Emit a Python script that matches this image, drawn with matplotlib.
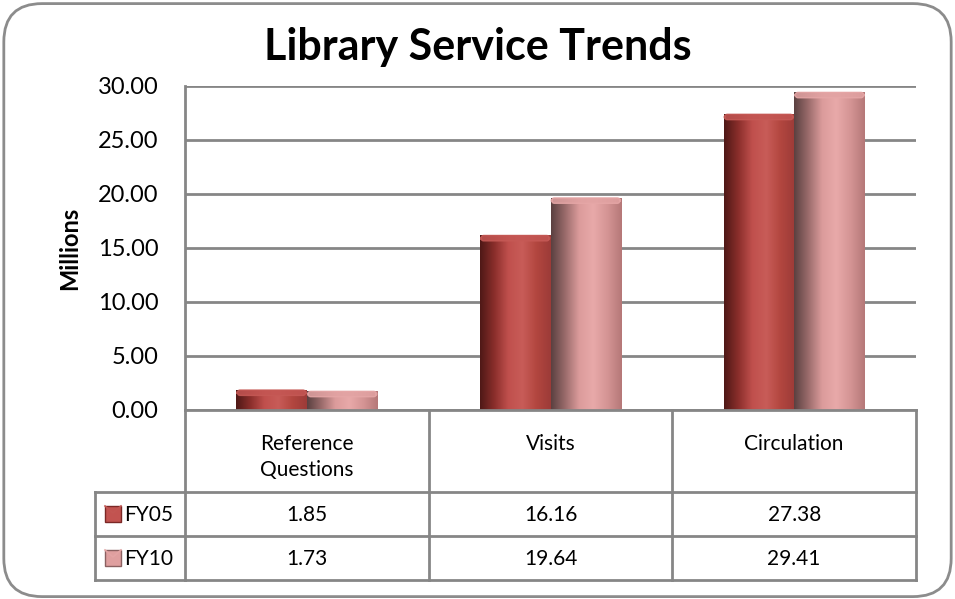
import numpy as np
import matplotlib.pyplot as plt
from matplotlib.colors import LinearSegmentedColormap
from matplotlib.patches import FancyBboxPatch
import matplotlib.transforms as mtransforms

plt.rcParams['font.family'] = ['Lato', 'DejaVu Sans']

# data
categories = ['Reference\nQuestions', 'Visits', 'Circulation']
series = ['FY05', 'FY10']
fy05 = [1.85, 16.16, 27.38]
fy10 = [1.73, 19.64, 29.41]
yticks = [0, 5, 10, 15, 20, 25, 30]

W, H = 955, 599
fig = plt.figure(figsize=(W / 100, H / 100), dpi=100)

# rounded chart border
fig.patches.append(FancyBboxPatch((0.004, 0.004), 0.992, 0.99,
                                  boxstyle='round,pad=0,rounding_size=0.04',
                                  transform=fig.transFigure, fill=False,
                                  edgecolor='#8c8c8c', linewidth=2, mutation_aspect=W / H))

def px(x0, y0, x1, y1):
    return [x0 / W, 1 - y1 / H, (x1 - x0) / W, (y1 - y0) / H]

ax = fig.add_axes(px(185, 86, 916, 410))
ax.set_xlim(-0.5, 2.5)
ax.set_ylim(0, 30)
ax.set_yticks(yticks)
ax.set_yticklabels(['%.2f' % t for t in yticks], fontsize=17)
ax.set_xticks([])
ax.tick_params(axis='y', length=0, pad=19)
for s in ['top', 'right', 'bottom']:
    ax.spines[s].set_visible(False)
ax.spines['left'].set_color('#868686')
ax.spines['left'].set_linewidth(2)
ax.grid(axis='y', color='#868686', linewidth=2)
ax.set_axisbelow(True)
ax.set_ylabel('Millions', fontsize=17, fontweight='bold', labelpad=12)

cmaps = [
    LinearSegmentedColormap.from_list('r', ['#4e1816', '#8a2e2b', '#c0504d', '#c85c58', '#b2463f', '#9c3b38']),
    LinearSegmentedColormap.from_list('p', ['#5a4040', '#9a6b6b', '#dc9c9c', '#e8a9a9', '#d49494', '#b57878']),
]
x = np.arange(len(categories))
bw = 0.29
grad = np.linspace(0, 1, 256).reshape(1, -1)
for i, vals in enumerate([fy05, fy10]):
    bars = ax.bar(x + (i - 0.5) * bw, vals, bw, color='none', edgecolor='none', zorder=3)
    for b in bars:
        x0, w, h = b.get_x(), b.get_width(), b.get_height()
        im = ax.imshow(grad, cmap=cmaps[i], aspect='auto', extent=[x0, x0 + w, 0, h],
                       zorder=3, interpolation='bicubic')
        im.set_clip_path(b)
        # subtle rounded top cap
        cap = FancyBboxPatch((x0 + 0.004, h - 0.5), w - 0.008, 0.5,
                             boxstyle='round,pad=0,rounding_size=0.012',
                             mutation_aspect=30, facecolor=cmaps[i](0.5),
                             edgecolor=cmaps[i](0.62), lw=1, alpha=0.85, zorder=4)
        ax.add_patch(cap)
ax.set_xlim(-0.5, 2.5)
ax.set_ylim(0, 30)

# data table below the plot
ov = fig.add_axes([0, 0, 1, 1], facecolor='none')
ov.set_xlim(0, W)
ov.set_ylim(H, 0)
ov.axis('off')
tr = mtransforms.blended_transform_factory(ax.transData, ov.transData)
lc = '#868686'
edges = np.arange(len(categories) + 1) - 0.5
rows_y = [410, 492, 536, 580]
for e in edges:
    ov.plot([e, e], [410, 580], color=lc, lw=2, transform=tr, clip_on=False)
for yy in rows_y[1:]:
    ov.plot([95, 185], [yy, yy], color=lc, lw=2)
    ov.plot([edges[0], edges[-1]], [yy, yy], color=lc, lw=2, transform=tr, clip_on=False)
ov.plot([edges[0], edges[-1]], [410, 410], color=lc, lw=2, transform=tr, clip_on=False)
ov.plot([95, 95], [492, 580], color=lc, lw=2)

for j, c in enumerate(categories):
    ov.text(x[j], 434, c, transform=tr, ha='center', va='top', fontsize=15, linespacing=1.35)
for i, (name, vals) in enumerate(zip(series, [fy05, fy10])):
    yc = (rows_y[i + 1] + rows_y[i + 2]) / 2
    ov.add_patch(plt.Rectangle((105, yc - 8), 16, 16, facecolor=cmaps[i](0.45),
                               edgecolor=cmaps[i](0.15), lw=1))
    ov.plot([105, 113, 121], [yc - 8, yc - 1, yc - 8], color=cmaps[i](0.65), lw=1.2)
    ov.text(124, yc + 1, name, ha='left', va='center', fontsize=15)
    for j, v in enumerate(vals):
        ov.text(x[j], yc + 1, '%.2f' % v, transform=tr, ha='center', va='center', fontsize=15)

fig.text(478 / W, 1 - 47 / H, 'Library Service Trends', ha='center', va='center',
         fontsize=31, fontweight='bold')

plt.savefig('out.png', dpi=100)
